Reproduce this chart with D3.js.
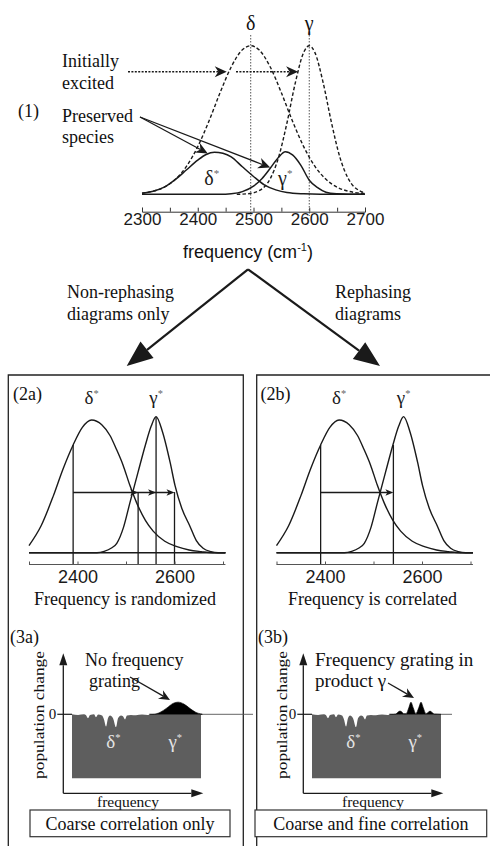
<!DOCTYPE html>
<html>
<head>
<meta charset="utf-8">
<script src="https://cdn.jsdelivr.net/npm/d3@7/dist/d3.min.js"></script>
<style>
  body { margin: 0; background: #fff; }
  svg { display: block; }
  .serif { font-family: "Liberation Serif", "Times New Roman", serif; fill: #111; }
  .sans { font-family: "Liberation Sans", Arial, sans-serif; fill: #111; }
</style>
</head>
<body>
<svg class="chart" width="490" height="846"></svg>
<script>
//panel (1) data: frequency (cm-1), height relative to the excited peaks
const topTicks = [2300, 2350, 2400, 2450, 2500, 2550, 2600, 2650, 2700];
const topTickLabels = [2300, 2400, 2500, 2600, 2700];
const peakNames = ["δ", "γ"];
const peakCenters = [2495, 2600];
const deltaExcited = [[2300, 0.008], [2320, 0.021], [2340, 0.048], [2360, 0.101], [2380, 0.189], [2400, 0.321],
  [2420, 0.492], [2440, 0.683], [2460, 0.857], [2480, 0.972], [2495, 1], [2510, 0.972], [2530, 0.857],
  [2550, 0.683], [2570, 0.492], [2590, 0.321], [2610, 0.189], [2630, 0.101], [2650, 0.048], [2670, 0.021],
  [2690, 0.008], [2700, 0.005]];
const gammaExcited = [[2470, 0], [2490, 0.004], [2510, 0.024], [2530, 0.105], [2545, 0.249], [2560, 0.48],
  [2575, 0.75], [2590, 0.955], [2600, 1], [2610, 0.955], [2625, 0.75], [2640, 0.48], [2655, 0.249],
  [2670, 0.105], [2690, 0.024], [2700, 0.01]];
const deltaPreserved = [[2300, 0.007], [2320, 0.021], [2340, 0.048], [2360, 0.1], [2380, 0.165], [2400, 0.23],
  [2415, 0.268], [2430, 0.283], [2445, 0.276], [2460, 0.252], [2480, 0.185], [2500, 0.12], [2520, 0.062],
  [2540, 0.03], [2560, 0.012], [2590, 0.003], [2620, 0], [2700, 0]];
const gammaPreserved = [[2300, 0], [2440, 0], [2460, 0.004], [2480, 0.018], [2500, 0.055], [2515, 0.105],
  [2530, 0.175], [2545, 0.25], [2557, 0.287], [2570, 0.265], [2585, 0.195], [2600, 0.095], [2615, 0.045],
  [2630, 0.014], [2650, 0.003], [2670, 0], [2700, 0]];
const excitedArrowTargets = [[2452, 0.825], [2580, 0.825]];
const preservedArrowTargets = [[2418, 0.275], [2530, 0.18]];

//panel (2) data: same species after waiting, peak normalised
const midTicks = [2300, 2400, 2500, 2600, 2700];
const midTickLabels = [2400, 2600];
const deltaStar = [[2300, 0.053], [2325, 0.2], [2350, 0.42], [2370, 0.62], [2391, 0.8], [2410, 0.93],
  [2429, 0.985], [2450, 0.95], [2467, 0.87], [2480, 0.77], [2494, 0.65], [2508, 0.5], [2522, 0.37],
  [2540, 0.24], [2556, 0.16], [2580, 0.085], [2605, 0.045], [2630, 0.02], [2655, 0.008], [2680, 0], [2705, 0]];
const gammaStar = [[2300, 0], [2440, 0], [2455, 0.01], [2470, 0.035], [2481, 0.07], [2495, 0.19], [2508, 0.37],
  [2525, 0.6], [2540, 0.8], [2552, 0.94], [2562, 1.01], [2575, 0.9], [2591, 0.67], [2601, 0.5], [2615, 0.33],
  [2632, 0.195], [2645, 0.09], [2659, 0.033], [2675, 0.008], [2690, 0], [2705, 0]];
const randomizedFreqs = [2391, 2525, 2562, 2600];
const randomizedTops = [0.8, 0.45, 1.01, 0.45];
const correlatedFreqs = [2391, 2541];
const correlatedTops = [0.8, 0.8];
const transferLevel = 0.447;

//panel (3) data: population change along frequency (0-100 arbitrary units)
const holeProfile = [[0, 0], [4.7, -0.01], [9.3, 0], [10.9, -0.015], [12.4, -0.06], [14, -0.01], [17.1, 0],
  [18.6, -0.045], [20.2, -0.005], [23.3, -0.02], [24.8, -0.08], [26.4, -0.19], [27.9, -0.06], [29.5, -0.02],
  [31.8, -0.06], [34.1, -0.2], [35.7, -0.06], [38, -0.02], [39.5, -0.03], [41.1, -0.08], [42.6, -0.02],
  [45.7, -0.01], [49.6, -0.015], [54.3, -0.005], [58.9, -0.01], [62.8, 0], [100, 0]];
const coarseProduct = [[60, 0], [62.8, 0], [68.2, 0.03], [73.6, 0.1], [78.3, 0.17], [82.2, 0.19], [86.8, 0.16],
  [91.5, 0.09], [96.1, 0.03], [100, 0.005], [101, 0]];
const fineProduct = [[60, 0], [63, 0], [65, 0.005], [67, 0.04], [68.2, 0.05], [69.5, 0.04], [71, 0.01],
  [73, 0.01], [75, 0.1], [76.7, 0.19], [78.5, 0.1], [80.5, 0.01], [82.7, 0.1], [84.5, 0.19], [86.3, 0.1],
  [88.3, 0.01], [90, 0.03], [91.5, 0.05], [93, 0.03], [95, 0.005], [100, 0]];

var svg = d3.select(".chart");
var ink = "#1a1a1a";

//arrow helper: line plus filled head (notch pulls the back of the head in)
function arrow(g, x1, y1, x2, y2, len, half, notch, dash) {
  var a = Math.atan2(y2 - y1, x2 - x1);
  var c = Math.cos(a), s = Math.sin(a);
  var bx = x2 - len * c, by = y2 - len * s;
  var nx = bx + notch * len * c, ny = by + notch * len * s;
  g.append("line")
    .attr("x1", x1).attr("y1", y1).attr("x2", nx).attr("y2", ny)
    .attr("stroke", ink).attr("stroke-width", dash ? 1.4 : (len > 15 ? 2.2 : 1.3))
    .attr("stroke-dasharray", dash || null);
  g.append("path")
    .attr("d", "M" + x2 + "," + y2 + "L" + (bx - half * s) + "," + (by + half * c) +
      "L" + nx + "," + ny + "L" + (bx + half * s) + "," + (by - half * c) + "Z")
    .attr("fill", ink);
}

function label(g, cls, x, y, txt, size, anchor) {
  return g.append("text").attr("class", cls)
    .attr("x", x).attr("y", y)
    .attr("font-size", size)
    .attr("text-anchor", anchor || "start")
    .text(txt);
}

//star label (greek letter with small superscript asterisk)
function starLabel(g, x, y, letter, size, color) {
  var t = g.append("text").attr("class", "serif")
    .attr("x", x).attr("y", y).attr("font-size", size)
    .attr("text-anchor", "middle")
    .style("fill", color || ink);
  t.append("tspan").text(letter);
  t.append("tspan").attr("font-size", size * 0.55).attr("dy", -size * 0.38)
    .style("fill", color ? color : "#666").text("*");
  return t;
}

// ---------- panel (1) ----------
var x1 = d3.scaleLinear().domain([2300, 2700]).range([142, 365]);
var y1 = d3.scaleLinear().domain([0, 1]).range([194.3, 45.7]);
var topPanel = svg.append("g");

var line1 = d3.line()
  .x(function (d) { return x1(d[0]); })
  .y(function (d) { return y1(d[1]); })
  .curve(d3.curveMonotoneX);

//dotted peak markers
topPanel.selectAll(".peakline").data(peakCenters).enter().append("line")
  .attr("x1", function (d) { return x1(d); }).attr("x2", function (d) { return x1(d); })
  .attr("y1", 35).attr("y2", 216)
  .attr("stroke", "#555").attr("stroke-width", 1).attr("stroke-dasharray", "1.5,1.5");
topPanel.selectAll(".peakname").data(peakNames).enter().append("text")
  .attr("class", "serif")
  .attr("x", function (d, i) { return x1(peakCenters[i]); })
  .attr("y", 30).attr("font-size", 20).attr("text-anchor", "middle")
  .text(function (d) { return d; });

[deltaExcited, gammaExcited].forEach(function (c) {
  topPanel.append("path").datum(c).attr("d", line1)
    .attr("fill", "none").attr("stroke", ink).attr("stroke-width", 1.4)
    .attr("stroke-dasharray", "3.5,2.2");
});
[deltaPreserved, gammaPreserved].forEach(function (c) {
  topPanel.append("path").datum(c).attr("d", line1)
    .attr("fill", "none").attr("stroke", ink).attr("stroke-width", 1.5);
});

starLabel(topPanel, x1(2425), 185, "δ", 20);
starLabel(topPanel, x1(2557), 185, "γ", 20);

//axis
topPanel.append("g")
  .attr("transform", "translate(0,211.7)")
  .call(d3.axisBottom(x1).tickValues(topTicks).tickSize(-4).tickPadding(1)
    .tickFormat(function (d) { return topTickLabels.indexOf(d) > -1 ? d : ""; }))
  .call(function (g) {
    g.select(".domain").attr("stroke", "#333");
    g.selectAll(".tick line").attr("stroke", "#333");
    g.selectAll("text").attr("class", "sans").attr("font-size", 17)
      .attr("font-family", null).style("fill", ink);
  });

var ft = topPanel.append("text").attr("class", "sans")
  .attr("x", 248).attr("y", 258).attr("font-size", 18).attr("text-anchor", "middle");
ft.append("tspan").text("frequency (cm");
ft.append("tspan").attr("font-size", 11).attr("dy", -7).text("-1");
ft.append("tspan").attr("dy", 7).text(")");

label(topPanel, "serif", 18, 117, "(1)", 18);
label(topPanel, "serif", 62, 67, "Initially", 18);
label(topPanel, "serif", 62, 88.5, "excited", 18);
label(topPanel, "serif", 62, 121.7, "Preserved", 18);
label(topPanel, "serif", 62, 143, "species", 18);

//dotted arrows to the excited bands
arrow(topPanel, 128, y1(excitedArrowTargets[0][1]), x1(excitedArrowTargets[0][0]), y1(excitedArrowTargets[0][1]), 12, 5.5, 0.3, "2,1.4");
arrow(topPanel, 236, y1(excitedArrowTargets[1][1]), x1(excitedArrowTargets[1][0]), y1(excitedArrowTargets[1][1]), 12, 5.5, 0.3, "2,1.4");
//solid arrows to the preserved species
preservedArrowTargets.forEach(function (p) {
  arrow(topPanel, 140, 117, x1(p[0]), y1(p[1]), 12, 5.5, 0.3);
});

//branching arrows
arrow(topPanel, 248, 269.3, 126.7, 366, 26, 10.5, 0);
arrow(topPanel, 248, 269.3, 380, 366, 26, 10.5, 0);
label(topPanel, "serif", 67, 298, "Non-rephasing", 18);
label(topPanel, "serif", 67, 320, "diagrams only", 18);
label(topPanel, "serif", 335, 298, "Rephasing", 18);
label(topPanel, "serif", 335, 320, "diagrams", 18);

//panel frames
svg.append("path").attr("d", "M8.3,846V375H243.3V846")
  .attr("fill", "none").attr("stroke", "#222").attr("stroke-width", 1.3);
svg.append("path").attr("d", "M256.7,846V375H492")
  .attr("fill", "none").attr("stroke", "#222").attr("stroke-width", 1.3);

// ---------- panel (2) ----------
function drawPanel2(ox, tag, freqs, tops, caption) {
  var g = svg.append("g");
  var x = d3.scaleLinear().domain([2300, 2700]).range([29 + ox, 223 + ox]);
  var y = d3.scaleLinear().domain([0, 1]).range([552.7, 418]);
  var line = d3.line()
    .x(function (d) { return x(d[0]); })
    .y(function (d) { return y(d[1]); })
    .curve(d3.curveMonotoneX);

  g.append("line").attr("x1", x(2300)).attr("x2", x(2705))
    .attr("y1", y(0)).attr("y2", y(0)).attr("stroke", ink).attr("stroke-width", 1.4);
  [deltaStar, gammaStar].forEach(function (c) {
    g.append("path").datum(c).attr("d", line)
      .attr("fill", "none").attr("stroke", ink).attr("stroke-width", 1.4);
  });

  //vertical frequency markers
  g.selectAll(".marker").data(freqs).enter().append("line")
    .attr("x1", function (d) { return x(d); }).attr("x2", function (d) { return x(d); })
    .attr("y1", function (d, i) { return y(tops[i]); })
    .attr("y2", 564.5)
    .attr("stroke", ink).attr("stroke-width", 1.3);

  //transfer arrows (each hop to the next marker)
  var ya = y(transferLevel);
  g.append("line").attr("x1", x(freqs[0])).attr("x2", x(freqs[freqs.length - 1]) - 4)
    .attr("y1", ya).attr("y2", ya).attr("stroke", ink).attr("stroke-width", 1.3);
  freqs.slice(1).forEach(function (f) {
    var tx = x(f);
    g.append("path").attr("d", "M" + tx + "," + ya + "L" + (tx - 8) + "," + (ya - 3.2) +
      "L" + (tx - 6) + "," + ya + "L" + (tx - 8) + "," + (ya + 3.2) + "Z").attr("fill", ink);
  });

  g.append("g")
    .attr("transform", "translate(0,564.5)")
    .call(d3.axisBottom(x).tickValues(midTicks).tickSize(-3).tickPadding(6)
      .tickFormat(function (d) { return midTickLabels.indexOf(d) > -1 ? d : ""; }))
    .call(function (a) {
      a.select(".domain").attr("stroke", "#555").attr("d", "M" + x(2300) + ",0H" + x(2705));
      a.selectAll(".tick line").attr("stroke", "#555");
      a.selectAll("text").attr("class", "sans").attr("font-size", 18)
        .attr("font-family", null).style("fill", ink);
    });

  label(g, "serif", 13 + ox * 1.0, 400, tag, 18);
  starLabel(g, x(2429), 404, "δ", 19);
  starLabel(g, x(2562), 404, "γ", 19);
  label(g, "serif", x(2500) - 1, 605, caption, 18, "middle");
}
drawPanel2(0, "(2a)", randomizedFreqs, randomizedTops, "Frequency is randomized");
drawPanel2(247.5, "(2b)", correlatedFreqs, correlatedTops, "Frequency is correlated");

// ---------- panel (3) ----------
function drawPanel3(ox, tag, product, zeroEnd, note, arrowPts, noteX, caption, capBox) {
  var g = svg.append("g");
  var x = d3.scaleLinear().domain([0, 100]).range([72 + ox, 201 + ox]);
  var y = d3.scaleLinear().domain([-1, 0]).range([778.3, 714.3]);
  var axX = 63.3 + ox, axY = 793.3;

  //zero line outside the bleach block
  g.append("line").attr("x1", axX - 6).attr("x2", x(0)).attr("y1", y(0)).attr("y2", y(0))
    .attr("stroke", ink).attr("stroke-width", 1.2);
  g.append("line").attr("x1", x(100)).attr("x2", zeroEnd).attr("y1", y(0)).attr("y2", y(0))
    .attr("stroke", "#555").attr("stroke-width", 0.9);
  g.append("text").attr("class", "serif").attr("x", axX - 7).attr("y", y(0) + 5)
    .attr("font-size", 15).attr("text-anchor", "end").text("0");

  var bleach = d3.area()
    .x(function (d) { return x(d[0]); })
    .y0(y(-1))
    .y1(function (d) { return y(d[1]); })
    .curve(d3.curveMonotoneX);
  g.append("path").datum(holeProfile).attr("d", bleach).attr("fill", "#5e5e5e");

  var gain = d3.area()
    .x(function (d) { return x(d[0]); })
    .y0(y(0))
    .y1(function (d) { return y(d[1]); })
    .curve(d3.curveMonotoneX);
  g.append("path").datum(product).attr("d", gain).attr("fill", "#000")
    .attr("stroke", "#000").attr("stroke-width", 0.6);

  starLabel(g, x(32), 748, "δ", 19, "#e4e4e4");
  starLabel(g, x(80), 748, "γ", 19, "#e4e4e4");

  //axes as arrows
  arrow(g, axX, axY, axX, 653.3, 12, 4, 0);
  arrow(g, axX, axY, 203.3 + ox, axY, 12, 4, 0);

  g.append("text").attr("class", "serif")
    .attr("transform", "translate(" + (39 + ox + (ox ? 3 : 0)) + ",715)rotate(-90)")
    .attr("font-size", 15).attr("text-anchor", "middle").attr("dy", "0.35em")
    .attr("textLength", 128).attr("lengthAdjust", "spacingAndGlyphs")
    .text("population change");
  label(g, "serif", 128 + ox + (ox ? 5 : 0), 806.7, "frequency", 15.5, "middle");

  label(g, "serif", ox ? 258 : 10, 643, tag, 18);
  note.forEach(function (t, i) {
    label(g, "serif", noteX[i], 665.5 + i * 21.5, t, ox ? 19 : 18);
  });
  arrow(g, arrowPts[0], arrowPts[1], arrowPts[2], arrowPts[3], 11, 5, 0.3);

  g.append("rect").attr("x", capBox[0]).attr("y", 810).attr("width", capBox[1] - capBox[0]).attr("height", 26.7)
    .attr("fill", "#fff").attr("stroke", "#333").attr("stroke-width", 1.2);
  label(g, "serif", (capBox[0] + capBox[1]) / 2, 830, caption, 18, "middle");
}
drawPanel3(0, "(3a)", coarseProduct, 253, ["No frequency", "grating"], [130, 677, 170, 700],
  [85, 89], "Coarse correlation only", [30, 230]);
drawPanel3(240, "(3b)", fineProduct, 452, ["Frequency grating in", "product γ"], [388, 683, 414, 698],
  [315, 315], "Coarse and fine correlation", [255, 486.7]);
</script>
</body>
</html>
